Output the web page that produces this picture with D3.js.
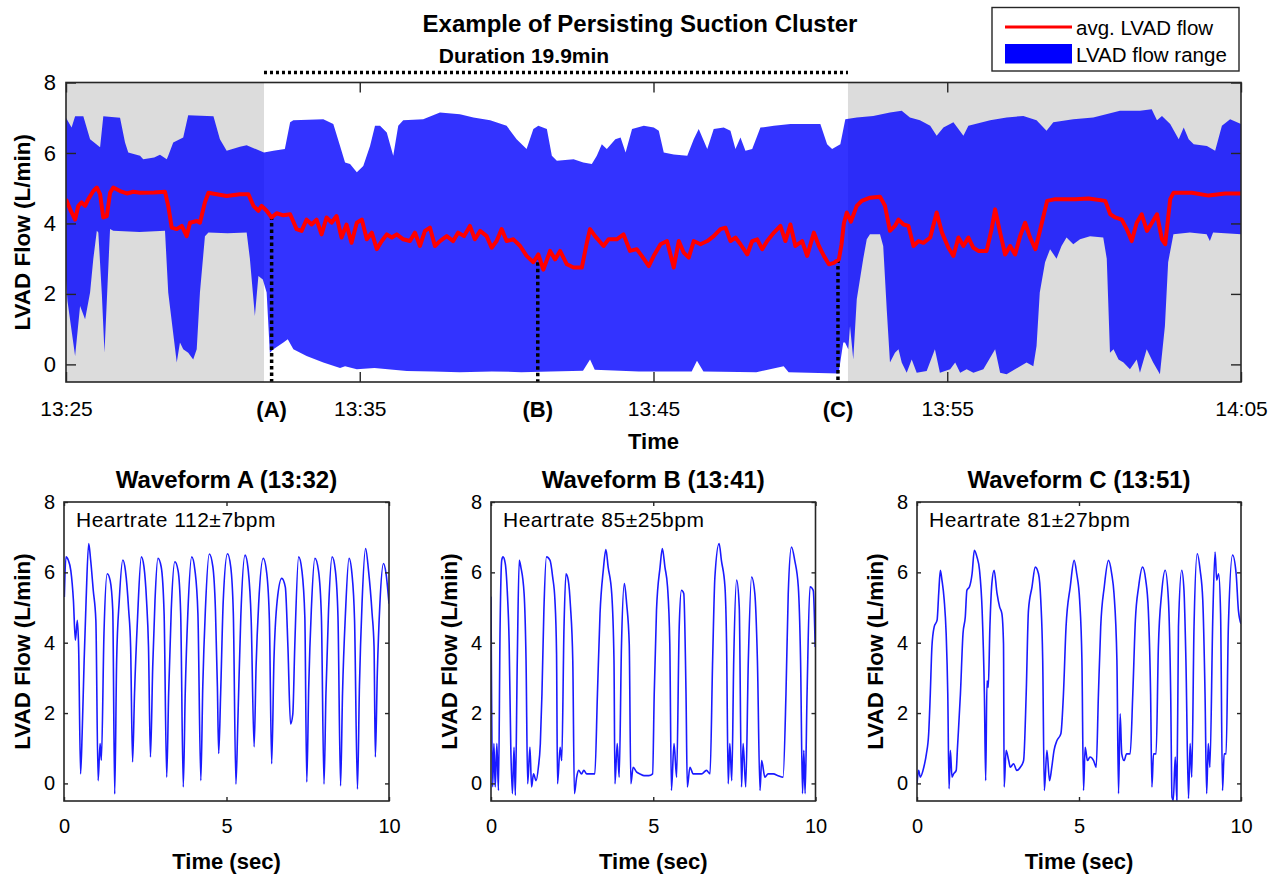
<!DOCTYPE html>
<html>
<head>
<meta charset="utf-8">
<script src="https://cdn.jsdelivr.net/npm/d3@7"></script>
<style>
  body { margin: 0; background: #fff; }
  svg { display: block; font-family: "Liberation Sans", Arial, Helvetica, sans-serif; }
</style>
</head>
<body>
<svg id="fig" width="1277" height="874"></svg>
<script>
// ---------------- Overview panel (time in minutes after 13:25) ----------------
const rangeUpper = [[0,7.0],[0.19,6.72],[0.31,7.04],[0.59,7.04],[0.82,6.39],[1.16,6.16],[1.27,7.04],[1.84,7.0],[2.01,6.3],[2.12,6.01],[2.52,5.92],[2.63,5.82],[3.0,5.87],[3.2,5.95],[3.43,5.82],[3.48,5.92],[3.65,6.3],[3.99,6.44],[4.16,7.07],[5.02,7.04],[5.24,6.39],[5.47,6.06],[5.92,6.18],[6.15,6.22],[6.6,6.06],[6.74,6.01],[7.06,6.06],[7.45,6.11],[7.63,6.87],[7.74,6.93],[8.76,6.96],[9.1,6.82],[9.33,6.2],[9.5,5.73],[9.67,5.69],[9.9,5.45],[10.12,5.63],[10.35,6.2],[10.52,6.77],[10.69,6.77],[10.92,6.58],[11.14,5.92],[11.31,6.77],[11.48,6.93],[12.16,6.96],[12.73,7.15],[13.41,7.1],[13.87,7.01],[14.44,6.93],[15.0,6.77],[15.34,6.39],[15.68,6.11],[15.91,6.68],[16.08,6.77],[16.37,6.68],[16.54,5.92],[16.71,5.78],[17.28,5.82],[17.61,5.73],[17.9,5.69],[18.07,5.92],[18.24,6.25],[18.41,6.11],[18.7,6.39],[18.88,6.44],[19.05,6.01],[19.27,6.68],[19.67,6.77],[20.01,6.72],[20.18,6.63],[20.35,6.01],[20.69,5.96],[21.15,5.92],[21.37,6.39],[21.54,6.68],[21.83,6.11],[22.05,6.68],[22.39,6.72],[22.62,6.63],[22.79,6.11],[22.96,6.44],[23.13,6.06],[23.36,6.11],[23.64,6.72],[24.1,6.77],[24.66,6.82],[25.23,6.82],[25.68,6.82],[25.91,6.25],[26.08,6.11],[26.36,6.25],[26.53,6.96],[26.92,7.01],[27.48,7.05],[28.05,7.15],[28.45,7.2],[28.73,7.01],[29.07,6.93],[29.42,6.77],[29.64,6.49],[29.87,6.72],[30.21,6.87],[30.55,6.49],[30.72,6.77],[31.46,6.93],[32.02,7.01],[32.59,7.05],[33.04,6.93],[33.38,6.63],[33.61,6.87],[34.29,6.96],[34.97,7.01],[35.88,7.2],[36.56,7.2],[36.96,7.24],[37.14,6.93],[37.31,7.05],[37.59,6.82],[37.88,6.39],[38.05,6.72],[38.22,6.39],[38.39,6.25],[38.84,6.2],[39.12,6.06],[39.35,6.77],[39.63,6.96],[40,6.82]];

const rangeLower = [[0,2.41],[0.05,1.8],[0.31,0.24],[0.48,1.66],[0.65,1.28],[0.82,2.04],[0.93,3.0],[1.05,3.79],[1.1,3.74],[1.22,2.0],[1.31,0.33],[1.4,2.0],[1.5,3.84],[1.61,3.79],[2.5,3.76],[3.37,3.79],[3.48,2.04],[3.77,0.05],[3.88,0.62],[3.99,0.43],[4.16,0.33],[4.33,0.14],[4.45,0.43],[4.56,2.04],[4.73,3.64],[4.85,3.74],[5.5,3.72],[6.15,3.74],[6.26,3.0],[6.43,1.37],[6.55,2.51],[6.7,2.41],[6.83,2.04],[6.94,0.33],[7.06,0.43],[7.4,0.62],[7.55,0.71],[7.74,0.43],[8.19,0.24],[8.76,0.05],[9.33,-0.1],[9.5,-0.05],[9.9,-0.14],[10.5,-0.1],[11.6,-0.19],[12.5,-0.2],[13.4,-0.22],[14.5,-0.2],[15.5,-0.22],[16.5,-0.2],[17.6,-0.18],[17.84,0.14],[18.0,-0.15],[19.5,-0.2],[21.3,-0.2],[21.48,0.1],[21.7,-0.2],[23.5,-0.22],[24.43,-0.05],[24.6,-0.22],[26.3,-0.26],[26.46,0.62],[26.52,0.62],[26.63,0.43],[26.69,1.09],[26.8,0.14],[26.92,1.85],[27.14,3.0],[27.26,3.55],[27.37,3.69],[27.71,3.69],[27.82,3.36],[27.94,1.56],[28.05,0.05],[28.22,0.33],[28.34,0.43],[28.45,0.05],[28.62,-0.24],[28.79,0.14],[28.96,-0.24],[29.3,-0.19],[29.58,0.43],[29.75,-0.24],[30.1,-0.14],[30.27,0.05],[30.44,-0.24],[30.66,-0.14],[30.89,-0.24],[31.23,-0.14],[31.63,0.43],[31.8,-0.24],[32.02,-0.28],[32.7,0.05],[32.93,-0.05],[33.04,0.52],[33.15,2.04],[33.33,2.9],[33.5,3.27],[33.72,3.0],[33.89,3.36],[34.06,3.6],[34.29,3.41],[34.52,3.55],[34.86,3.64],[35.31,3.6],[35.43,3.0],[35.54,0.33],[35.66,0.43],[35.83,0.14],[36.0,0.05],[36.22,-0.14],[36.45,0.14],[36.56,-0.24],[36.79,0.43],[37.01,0.05],[37.24,-0.28],[37.41,1.09],[37.52,2.9],[37.7,3.69],[38.26,3.74],[38.83,3.69],[38.94,3.5],[39.05,3.74],[40,3.69]];

const avgFlow = [[0,4.69],[0.14,4.4],[0.31,4.11],[0.42,4.5],[0.53,4.6],[0.65,4.5],[0.76,4.69],[0.93,4.92],[1.05,5.02],[1.16,4.83],[1.27,4.17],[1.39,4.21],[1.5,4.87],[1.61,5.02],[1.84,4.92],[2.07,4.85],[2.29,4.9],[2.52,4.87],[3.0,4.88],[3.37,4.9],[3.48,4.5],[3.6,3.88],[3.77,3.84],[3.94,3.93],[4.11,3.64],[4.22,4.02],[4.45,4.07],[4.56,4.02],[4.73,4.6],[4.85,4.87],[5.13,4.83],[5.47,4.78],[5.92,4.83],[6.21,4.83],[6.38,4.5],[6.55,4.36],[6.66,4.5],[6.83,4.36],[7.0,4.17],[7.17,4.29],[7.4,4.23],[7.63,4.26],[7.85,3.84],[8.02,3.79],[8.19,4.11],[8.36,3.97],[8.53,4.11],[8.7,3.69],[8.87,4.17],[9.04,4.02],[9.21,4.21],[9.38,3.6],[9.55,3.97],[9.72,3.45],[9.9,4.02],[10.07,4.11],[10.24,3.55],[10.41,3.74],[10.58,3.27],[10.75,3.5],[10.92,3.69],[11.09,3.6],[11.26,3.69],[11.48,3.55],[11.71,3.5],[11.88,3.74],[12.05,3.36],[12.22,3.79],[12.39,3.88],[12.56,3.36],[12.73,3.5],[12.96,3.64],[13.18,3.5],[13.35,3.74],[13.55,3.64],[13.75,3.93],[13.92,3.55],[14.1,3.79],[14.32,3.64],[14.49,3.31],[14.66,3.5],[14.83,3.84],[15.0,3.5],[15.23,3.55],[15.46,3.36],[15.68,3.08],[15.91,2.9],[16.08,3.12],[16.25,2.69],[16.48,3.22],[16.65,2.98],[16.82,3.22],[17.05,2.84],[17.28,2.75],[17.56,2.75],[17.73,3.45],[17.84,3.84],[18.01,3.64],[18.3,3.36],[18.47,3.55],[18.75,3.55],[18.98,3.69],[19.2,3.22],[19.43,3.27],[19.6,3.08],[19.84,2.79],[20.01,3.08],[20.24,3.41],[20.46,3.5],[20.69,2.75],[20.86,3.5],[21.03,3.17],[21.2,3.03],[21.37,3.5],[21.6,3.41],[21.83,3.5],[22.05,3.64],[22.28,3.84],[22.45,3.88],[22.62,3.5],[22.79,3.6],[22.96,3.41],[23.19,3.12],[23.36,3.5],[23.53,3.55],[23.7,3.27],[23.87,3.5],[24.1,3.74],[24.32,3.93],[24.49,3.5],[24.66,3.97],[24.83,3.36],[25.06,3.5],[25.23,3.08],[25.46,3.74],[25.63,3.36],[25.8,3.08],[25.97,2.84],[26.14,2.88],[26.31,2.98],[26.4,3.4],[26.48,4.0],[26.58,4.31],[26.72,4.05],[26.92,4.5],[27.09,4.64],[27.37,4.73],[27.71,4.76],[27.88,4.5],[28.05,3.79],[28.22,3.93],[28.34,4.11],[28.51,3.97],[28.68,3.93],[28.85,3.36],[29.02,3.5],[29.19,3.45],[29.42,3.6],[29.64,4.31],[29.82,3.74],[30.04,3.31],[30.21,3.08],[30.38,3.6],[30.55,3.36],[30.72,3.6],[30.89,3.31],[31.06,3.22],[31.34,3.22],[31.51,3.84],[31.63,4.4],[31.8,3.74],[31.97,3.12],[32.14,3.36],[32.31,3.12],[32.48,3.64],[32.65,4.02],[32.82,3.6],[33.0,3.27],[33.17,3.84],[33.4,4.64],[33.68,4.69],[34.36,4.69],[34.81,4.71],[35.38,4.64],[35.55,4.26],[35.72,4.17],[35.94,4.11],[36.11,3.84],[36.28,3.5],[36.45,4.02],[36.62,4.26],[36.8,3.79],[36.97,4.02],[37.14,4.26],[37.31,3.55],[37.42,3.41],[37.59,4.69],[37.7,4.87],[38.33,4.87],[38.9,4.79],[39.46,4.85],[40.0,4.85]];

const clusterSpan = [6.74, 26.62];            // persisting suction cluster
const durationLabel = "Duration 19.9min";
const markerNames  = ["(A)", "(B)", "(C)"];
const markerTimes  = [7.0, 16.06, 26.28];
const markerLevels = [4.2, 3.08, 2.98];
const clockTicks  = [0, 10, 20, 30, 40];
const clockLabels = ["13:25", "13:35", "13:45", "13:55", "14:05"];
const flowTicks   = [0, 2, 4, 6, 8];

// ---------------- Raw 10-second waveforms [sec, L/min] ----------------
const waveA = [[0.01,5.3],[0.06,6.44],[0.13,6.35],[0.21,6.05],[0.29,5.2],[0.35,4.07],[0.41,4.64],[0.45,3.88],[0.51,0.27],[0.56,1.46],[0.62,3.5],[0.68,5.2],[0.76,6.82],[0.82,6.35],[0.9,5.49],[0.98,4.64],[1.05,0.08],[1.11,1.13],[1.15,0.66],[1.23,4.26],[1.33,5.96],[1.42,5.77],[1.5,4.93],[1.56,-0.3],[1.62,3.5],[1.7,5.2],[1.81,6.35],[1.89,6.05],[1.99,4.93],[2.05,3.88],[2.11,0.61],[2.17,2.56],[2.26,4.64],[2.38,6.44],[2.46,6.16],[2.54,5.2],[2.6,3.88],[2.66,0.75],[2.73,3.32],[2.8,5.2],[2.89,6.4],[2.99,6.16],[3.08,4.83],[3.16,0.18],[3.22,2.56],[3.3,4.93],[3.41,6.3],[3.51,6.05],[3.59,4.83],[3.67,-0.1],[3.73,2.56],[3.81,4.83],[3.93,6.44],[4.03,6.05],[4.12,4.83],[4.21,0.08],[4.27,2.75],[4.35,4.93],[4.47,6.52],[4.58,6.16],[4.66,4.93],[4.72,2.75],[4.76,0.85],[4.82,2.56],[4.9,5.2],[5.03,6.53],[5.13,6.16],[5.21,4.83],[5.29,-0.02],[5.35,1.78],[5.44,4.74],[5.57,6.49],[5.67,6.05],[5.76,4.64],[5.85,1.04],[5.91,3.32],[5.99,5.11],[6.13,6.4],[6.24,5.96],[6.32,4.64],[6.39,0.56],[6.46,3.5],[6.56,5.2],[6.7,5.83],[6.81,5.58],[6.89,3.88],[6.97,1.69],[7.04,1.97],[7.1,3.88],[7.22,6.44],[7.32,6.05],[7.41,4.74],[7.47,0.04],[7.53,2.75],[7.61,4.93],[7.72,6.4],[7.83,6.05],[7.92,4.74],[8.0,-0.02],[8.06,2.56],[8.14,4.93],[8.25,6.44],[8.35,6.05],[8.43,4.74],[8.51,-0.07],[8.57,2.56],[8.66,4.83],[8.77,6.4],[8.86,5.96],[8.94,4.64],[9.03,-0.16],[9.09,2.75],[9.17,5.11],[9.28,6.68],[9.37,6.05],[9.48,4.83],[9.54,3.88],[9.58,0.75],[9.64,3.12],[9.72,5.11],[9.83,6.25],[9.91,5.96],[10.0,5.11]];

const waveB = [[0,5.31],[0.05,-0.1],[0.09,1.13],[0.13,-0.1],[0.18,1.13],[0.23,-0.2],[0.28,4.45],[0.33,6.34],[0.37,6.44],[0.44,6.25],[0.5,5.49],[0.56,3.97],[0.61,1.03],[0.66,-0.29],[0.71,1.03],[0.75,-0.34],[0.81,3.5],[0.87,6.34],[0.92,6.15],[1.02,5.4],[1.08,3.5],[1.13,-0.01],[1.2,1.03],[1.25,-0.1],[1.31,0.27],[1.39,0.08],[1.46,0.46],[1.52,1.13],[1.57,2.54],[1.63,4.92],[1.71,6.44],[1.82,6.34],[1.9,5.87],[1.97,5.21],[2.02,3.69],[2.05,-0.01],[2.13,1.03],[2.18,0.65],[2.25,4.45],[2.31,5.96],[2.38,5.78],[2.45,5.02],[2.52,3.5],[2.57,-0.29],[2.64,0.18],[2.7,0.37],[2.79,0.27],[2.86,0.37],[2.95,0.27],[3.08,0.27],[3.2,0.27],[3.28,2.54],[3.36,4.83],[3.46,6.06],[3.54,6.65],[3.61,6.15],[3.72,5.4],[3.79,3.5],[3.82,-0.01],[3.89,1.13],[3.95,0.18],[4.02,3.88],[4.11,5.68],[4.18,5.11],[4.26,3.97],[4.31,-0.01],[4.38,0.46],[4.49,0.32],[4.59,0.27],[4.72,0.22],[4.86,0.22],[4.98,0.27],[5.03,2.54],[5.1,4.92],[5.21,6.15],[5.28,6.68],[5.36,6.15],[5.44,5.59],[5.51,3.97],[5.56,-0.2],[5.64,1.13],[5.72,0.18],[5.8,4.45],[5.87,5.49],[5.94,5.4],[6.01,2.54],[6.05,-0.1],[6.13,0.46],[6.23,0.27],[6.33,0.27],[6.49,0.27],[6.64,0.37],[6.75,0.27],[6.83,3.5],[6.9,5.87],[7.03,6.82],[7.1,6.34],[7.21,5.59],[7.26,3.97],[7.31,-0.01],[7.36,1.13],[7.42,0.08],[7.48,3.5],[7.57,5.78],[7.65,5.02],[7.72,-0.1],[7.77,1.13],[7.85,-0.1],[7.93,3.5],[8.03,5.87],[8.13,5.4],[8.21,3.5],[8.29,-0.2],[8.34,0.65],[8.44,0.18],[8.54,0.27],[8.7,0.27],[8.85,0.22],[9.0,0.18],[9.09,2.54],[9.16,5.4],[9.26,6.72],[9.36,6.34],[9.47,5.59],[9.54,3.5],[9.6,-0.29],[9.64,0.94],[9.68,-0.29],[9.74,2.54],[9.83,5.59],[9.93,5.49],[9.99,3.88]];

const waveC = [[0,-0.01],[0.05,0.37],[0.1,0.18],[0.21,0.46],[0.29,0.84],[0.36,1.41],[0.41,2.54],[0.46,3.88],[0.53,4.45],[0.62,4.64],[0.67,5.4],[0.72,6.06],[0.77,5.78],[0.84,5.21],[0.9,4.26],[0.95,2.54],[0.99,-0.15],[1.03,0.94],[1.08,0.18],[1.13,0.27],[1.21,0.37],[1.25,1.03],[1.34,2.54],[1.42,4.26],[1.49,4.73],[1.54,5.49],[1.62,5.59],[1.7,5.96],[1.77,6.63],[1.85,6.44],[1.93,6.06],[2.01,4.92],[2.08,2.54],[2.12,0.08],[2.16,2.92],[2.2,2.73],[2.25,4.45],[2.31,5.68],[2.38,6.06],[2.47,5.4],[2.55,5.02],[2.62,4.83],[2.67,3.97],[2.69,-0.1],[2.75,0.94],[2.83,0.65],[2.88,0.46],[2.98,0.56],[3.08,0.37],[3.19,0.46],[3.29,0.65],[3.37,2.54],[3.44,4.92],[3.55,5.59],[3.65,6.15],[3.75,5.96],[3.82,5.21],[3.88,3.5],[3.93,-0.2],[4.01,0.94],[4.09,0.08],[4.16,0.46],[4.23,0.94],[4.32,1.22],[4.44,1.41],[4.52,2.54],[4.6,4.45],[4.73,5.59],[4.85,6.34],[4.93,5.96],[5.02,5.21],[5.09,3.5],[5.14,-0.2],[5.19,1.03],[5.26,0.65],[5.34,0.75],[5.45,0.65],[5.53,0.46],[5.6,2.54],[5.67,4.45],[5.78,5.59],[5.91,6.34],[6.01,5.96],[6.08,5.4],[6.17,3.5],[6.22,-0.29],[6.27,1.98],[6.32,0.84],[6.39,0.65],[6.47,0.84],[6.58,0.84],[6.66,2.54],[6.74,4.64],[6.84,5.59],[6.96,6.15],[7.06,5.78],[7.14,4.92],[7.21,2.54],[7.25,-0.1],[7.3,0.84],[7.38,0.84],[7.45,3.88],[7.55,5.4],[7.66,6.06],[7.76,5.21],[7.83,2.54],[7.87,-0.39],[7.91,-0.48],[7.97,0.75],[8.02,-0.48],[8.07,4.45],[8.17,6.06],[8.24,5.49],[8.3,3.5],[8.38,-0.43],[8.43,1.13],[8.48,0.18],[8.55,4.45],[8.65,6.53],[8.74,6.06],[8.82,5.21],[8.89,2.54],[8.94,-0.29],[8.99,1.13],[9.04,0.46],[9.13,4.73],[9.2,6.58],[9.25,5.78],[9.31,5.96],[9.37,4.83],[9.43,-0.2],[9.48,0.84],[9.54,0.84],[9.61,4.45],[9.74,6.49],[9.85,5.96],[9.92,4.92],[10.0,4.54]];

const waveTitles = ["Waveform A (13:32)", "Waveform B (13:41)", "Waveform C (13:51)"];
const heartrates = ["Heartrate 112\u00b17bpm", "Heartrate 85\u00b125bpm", "Heartrate 81\u00b127bpm"];
const secTicks = [0, 5, 10];

// ---------------- Drawing ----------------
const svg = d3.select("#fig");
const AXIS = "#262626";
const FLOW_Y = "LVAD Flow (L/min)";

// Overview axes box
const ov = { l: 66, r: 1241, t: 82.5, b: 382 };
const x = d3.scaleLinear().domain([0, 40]).range([ov.l, ov.r]);
const y = d3.scaleLinear().domain([-0.5, 8]).range([ov.b, ov.t]);

svg.append("defs").append("clipPath").attr("id", "ovClip")
  .append("rect").attr("x", ov.l).attr("y", ov.t).attr("width", ov.r - ov.l).attr("height", ov.b - ov.t);

const ovG = svg.append("g").attr("clip-path", "url(#ovClip)");

// grey background outside the suction cluster
[[0, clusterSpan[0]], [clusterSpan[1], 40]].forEach(([a, b]) => {
  ovG.append("rect")
    .attr("x", x(a)).attr("y", ov.t)
    .attr("width", x(b) - x(a)).attr("height", ov.b - ov.t)
    .attr("fill", "#dcdcdc");
});

// flow range band (max/min envelope of the pulsatile signal)
const bandPts = rangeUpper.concat(rangeLower.slice().reverse());
const bandLine = d3.line().x(d => x(d[0])).y(d => y(d[1]));
ovG.append("path")
  .attr("d", bandLine(bandPts) + "Z")
  .attr("fill", "#0000ff").attr("fill-opacity", 0.8);

// dotted drop lines to the waveform instants
markerTimes.forEach((t, i) => {
  ovG.append("line")
    .attr("x1", x(t)).attr("x2", x(t))
    .attr("y1", y(markerLevels[i])).attr("y2", y(-0.5))
    .attr("stroke", "#000").attr("stroke-width", 3.5)
    .attr("stroke-dasharray", "3.5,3");
});

// average flow
ovG.append("path")
  .attr("d", d3.line().x(d => x(d[0])).y(d => y(d[1]))(avgFlow))
  .attr("fill", "none").attr("stroke", "#ff0000").attr("stroke-width", 4)
  .attr("stroke-linejoin", "round");

// axes
function styleAxis(g, fontSize) {
  g.select(".domain").remove();
  g.selectAll(".tick line").attr("stroke", AXIS).attr("stroke-width", 1.4);
  g.selectAll(".tick text").attr("fill", "#000").style("font-size", fontSize + "px")
    .style("font-family", "'Liberation Sans', Arial, sans-serif");
}
const tickLen = 10;
svg.append("g").attr("transform", `translate(0,${ov.b})`)
  .call(d3.axisBottom(x).tickValues(clockTicks).tickFormat((d, i) => clockLabels[i])
        .tickSizeInner(-tickLen).tickSizeOuter(0).tickPadding(19))
  .call(g => styleAxis(g, 21));
svg.append("g").attr("transform", `translate(0,${ov.t})`)
  .call(d3.axisTop(x).tickValues(clockTicks).tickFormat("").tickSizeInner(-tickLen).tickSizeOuter(0))
  .call(g => styleAxis(g, 21));
svg.append("g").attr("transform", `translate(${ov.l},0)`)
  .call(d3.axisLeft(y).tickValues(flowTicks).tickFormat(d3.format("d"))
        .tickSizeInner(-tickLen).tickSizeOuter(0).tickPadding(10))
  .call(g => styleAxis(g, 22));
svg.append("g").attr("transform", `translate(${ov.r},0)`)
  .call(d3.axisRight(y).tickValues(flowTicks).tickFormat("").tickSizeInner(-tickLen).tickSizeOuter(0))
  .call(g => styleAxis(g, 22));

svg.append("rect").attr("x", ov.l).attr("y", ov.t)
  .attr("width", ov.r - ov.l).attr("height", ov.b - ov.t)
  .attr("fill", "none").attr("stroke", AXIS).attr("stroke-width", 1.6);

// waveform instant labels under the time axis
markerTimes.forEach((t, i) => {
  svg.append("text").attr("x", x(t)).attr("y", 417)
    .attr("text-anchor", "middle").style("font-size", "22px").style("font-weight", "bold")
    .text(markerNames[i]);
});

// titles and labels
svg.append("text").attr("x", 640).attr("y", 31.5).attr("text-anchor", "middle")
  .style("font-size", "24px").style("font-weight", "bold")
  .text("Example of Persisting Suction Cluster");
svg.append("text").attr("x", (x(clusterSpan[0]) + x(clusterSpan[1])) / 2 - 32).attr("y", 63)
  .attr("text-anchor", "middle").style("font-size", "21px").style("font-weight", "bold")
  .text(durationLabel);
svg.append("line")
  .attr("x1", x(clusterSpan[0])).attr("x2", x(clusterSpan[1]))
  .attr("y1", 72.5).attr("y2", 72.5)
  .attr("stroke", "#000").attr("stroke-width", 3.5).attr("stroke-dasharray", "3,3");

svg.append("text").attr("x", (ov.l + ov.r) / 2).attr("y", 449).attr("text-anchor", "middle")
  .style("font-size", "22px").style("font-weight", "bold").text("Time");
svg.append("text").attr("transform", `translate(30,${(ov.t + ov.b) / 2}) rotate(-90)`)
  .attr("text-anchor", "middle").style("font-size", "22.5px").style("font-weight", "bold")
  .text(FLOW_Y);

// legend
const lg = svg.append("g");
lg.append("rect").attr("x", 992).attr("y", 7.5).attr("width", 247).attr("height", 63.5)
  .attr("fill", "#fff").attr("stroke", AXIS).attr("stroke-width", 1.4);
lg.append("line").attr("x1", 1005).attr("x2", 1072).attr("y1", 27).attr("y2", 27)
  .attr("stroke", "#ff0000").attr("stroke-width", 3);
lg.append("text").attr("x", 1076).attr("y", 34.5).style("font-size", "20.5px").text("avg. LVAD flow");
lg.append("rect").attr("x", 1005).attr("y", 44).attr("width", 67).attr("height", 19.5).attr("fill", "#0000ff");
lg.append("text").attr("x", 1076).attr("y", 61.5).style("font-size", "20.5px").text("LVAD flow range");

// ---------------- Waveform panels ----------------
const panels = [
  { l: 64,  r: 389,  data: waveA },
  { l: 491, r: 815.5, data: waveB },
  { l: 917, r: 1241, data: waveC }
];
const pTop = 502, pBot = 801;

panels.forEach((p, i) => {
  const px = d3.scaleLinear().domain([0, 10]).range([p.l, p.r]);
  const py = d3.scaleLinear().domain([-0.5, 8]).range([pBot, pTop]);
  const cid = "wclip" + i;
  svg.select("defs").append("clipPath").attr("id", cid)
    .append("rect").attr("x", p.l).attr("y", pTop).attr("width", p.r - p.l).attr("height", pBot - pTop);

  svg.append("path")
    .attr("clip-path", `url(#${cid})`)
    .attr("d", d3.line().curve(d3.curveMonotoneX).x(d => px(d[0])).y(d => py(d[1]))(p.data))
    .attr("fill", "none").attr("stroke", "#1a1aff").attr("stroke-width", 1.6)
    .attr("stroke-linejoin", "round");

  const tl = 4;
  svg.append("g").attr("transform", `translate(0,${pBot})`)
    .call(d3.axisBottom(px).tickValues(secTicks).tickSizeInner(-tl).tickSizeOuter(0).tickPadding(18))
    .call(g => styleAxis(g, 20));
  svg.append("g").attr("transform", `translate(0,${pTop})`)
    .call(d3.axisTop(px).tickValues(secTicks).tickFormat("").tickSizeInner(-tl).tickSizeOuter(0))
    .call(g => styleAxis(g, 20));
  svg.append("g").attr("transform", `translate(${p.l},0)`)
    .call(d3.axisLeft(py).tickValues(flowTicks).tickFormat(d3.format("d"))
          .tickSizeInner(-tl).tickSizeOuter(0).tickPadding(9))
    .call(g => styleAxis(g, 20));
  svg.append("g").attr("transform", `translate(${p.r},0)`)
    .call(d3.axisRight(py).tickValues(flowTicks).tickFormat("").tickSizeInner(-tl).tickSizeOuter(0))
    .call(g => styleAxis(g, 20));

  svg.append("rect").attr("x", p.l).attr("y", pTop).attr("width", p.r - p.l).attr("height", pBot - pTop)
    .attr("fill", "none").attr("stroke", AXIS).attr("stroke-width", 1.6);

  const cx = (p.l + p.r) / 2;
  svg.append("text").attr("x", cx).attr("y", 488).attr("text-anchor", "middle")
    .style("font-size", "24px").style("font-weight", "bold").text(waveTitles[i]);
  svg.append("text").attr("x", p.l + 12).attr("y", 527)
    .style("font-size", "21px").style("letter-spacing", "0.5px").text(heartrates[i]);
  svg.append("text").attr("x", cx).attr("y", 869).attr("text-anchor", "middle")
    .style("font-size", "22px").style("font-weight", "bold").text("Time (sec)");
  svg.append("text").attr("transform", `translate(${p.l - 34},${(pTop + pBot) / 2}) rotate(-90)`)
    .attr("text-anchor", "middle").style("font-size", "22.5px").style("font-weight", "bold")
    .text(FLOW_Y);
});
</script>
</body>
</html>
